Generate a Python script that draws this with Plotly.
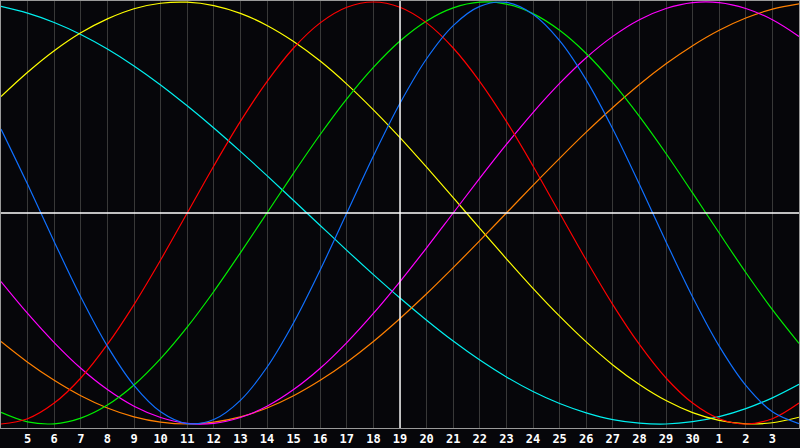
import plotly.graph_objects as go

# day offsets from left edge (day 4) to right edge (day 4 of next month)
day_index = list(range(31))
tick_positions = list(range(1, 30))
day_labels = [str(d) for d in range(5, 31)] + ["1", "2", "3"]
today_index = 15  # day 19

physical = [0.398, 0.136, -0.136, -0.398, -0.631, -0.817, -0.942, -0.998, -0.979, -0.888,
            -0.731, -0.520, -0.270, 0.0, 0.270, 0.520, 0.731, 0.888, 0.979, 0.998,
            0.942, 0.817, 0.631, 0.398, 0.136, -0.136, -0.398, -0.631, -0.817, -0.942, -0.998]
emotional = [-1.0, -0.975, -0.901, -0.782, -0.623, -0.434, -0.223, 0.0, 0.223, 0.434,
             0.623, 0.782, 0.901, 0.975, 1.0, 0.975, 0.901, 0.782, 0.623, 0.434,
             0.223, 0.0, -0.223, -0.434, -0.623, -0.782, -0.901, -0.975, -1.0, -0.975, -0.901]
intellectual = [-0.945, -0.990, -0.999, -0.972, -0.910, -0.815, -0.690, -0.541, -0.372, -0.189,
                0.0, 0.189, 0.372, 0.541, 0.690, 0.815, 0.910, 0.972, 0.999, 0.990,
                0.945, 0.866, 0.756, 0.618, 0.458, 0.282, 0.095, -0.095, -0.282, -0.458, -0.618]
intuitive = [-0.325, -0.476, -0.614, -0.736, -0.837, -0.916, -0.969, -0.997, -0.997, -0.969,
             -0.916, -0.837, -0.736, -0.614, -0.476, -0.325, -0.165, 0.0, 0.165, 0.325,
             0.476, 0.614, 0.736, 0.837, 0.916, 0.969, 0.997, 0.997, 0.969, 0.916, 0.837]
aesthetic = [0.552, 0.667, 0.769, 0.854, 0.920, 0.968, 0.994, 0.999, 0.983, 0.946,
             0.889, 0.813, 0.720, 0.611, 0.489, 0.357, 0.217, 0.073, -0.073, -0.217,
             -0.357, -0.489, -0.611, -0.720, -0.813, -0.889, -0.946, -0.983, -0.999, -0.994, -0.968]
awareness = [-0.609, -0.707, -0.793, -0.866, -0.924, -0.966, -0.991, -1.0, -0.991, -0.966,
             -0.924, -0.866, -0.793, -0.707, -0.609, -0.5, -0.383, -0.259, -0.131, 0.0,
             0.131, 0.259, 0.383, 0.5, 0.609, 0.707, 0.793, 0.866, 0.924, 0.966, 0.991]
spiritual = [0.979, 0.947, 0.903, 0.846, 0.777, 0.697, 0.607, 0.508, 0.403, 0.292,
             0.177, 0.059, -0.059, -0.177, -0.292, -0.403, -0.508, -0.607, -0.697, -0.777,
             -0.846, -0.903, -0.947, -0.979, -0.996, -1.0, -0.989, -0.965, -0.927, -0.876, -0.812]

series = [
    ("Spiritual", spiritual, "#00f0f0"),
    ("Aesthetic", aesthetic, "#ffff00"),
    ("Awareness", awareness, "#ff8000"),
    ("Intuitive", intuitive, "#ff00ff"),
    ("Intellectual", intellectual, "#00ee00"),
    ("Emotional", emotional, "#ff0000"),
    ("Physical", physical, "#1070ff"),
]

fig = go.Figure()
for name, vals, col in series:
    fig.add_trace(go.Scatter(x=day_index, y=vals, mode="lines", name=name,
                             line=dict(color=col, width=1.2, shape="spline", smoothing=1.0),
                             hoverinfo="skip"))

# today line and zero line
fig.add_shape(type="line", xref="x", yref="paper", x0=today_index, x1=today_index, y0=0, y1=1,
              line=dict(color="#ffffff", width=1.4), layer="above")
fig.add_shape(type="line", xref="paper", yref="y", x0=0, x1=1, y0=0, y1=0,
              line=dict(color="#ffffff", width=1.4), layer="above")

bg = "#06060a"
fig.update_layout(
    width=800, height=448,
    margin=dict(l=1, r=1, t=1, b=20, autoexpand=False),
    paper_bgcolor=bg, plot_bgcolor=bg,
    showlegend=False,
    xaxis=dict(range=[0, 30], tickvals=tick_positions, ticktext=day_labels,
               showgrid=True, gridcolor="#383838", gridwidth=1, zeroline=False,
               showline=True, linecolor="#9a9a9a", linewidth=1, mirror=True,
               ticks="", ticklen=0, ticklabelstandoff=0, automargin=False,
               tickfont=dict(family="DejaVu Sans Mono", size=12, color="#ffffff", weight="bold")),
    yaxis=dict(range=[-1.019, 1.0047], showgrid=False, zeroline=False, automargin=False,
               showticklabels=False, showline=True, linecolor="#9a9a9a", linewidth=1, mirror=True,
               ticks=""),
)

fig.write_html("out.html", config={"displayModeBar": False},
               post_script="document.body.style.margin='0';document.body.style.background='" + bg + "';")
